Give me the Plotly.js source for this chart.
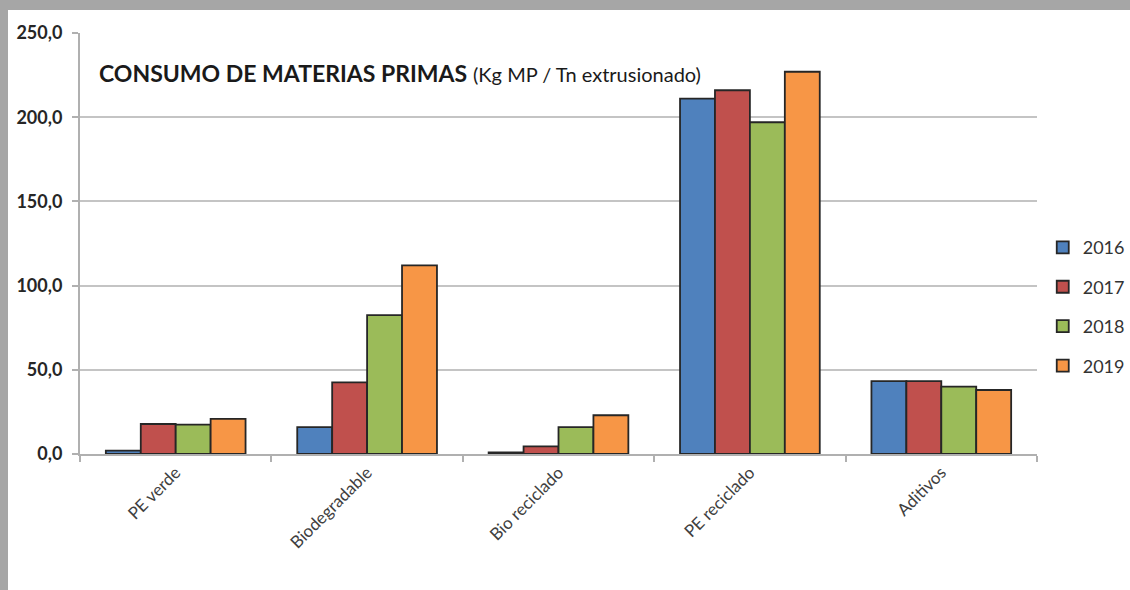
<!DOCTYPE html>
<html><head><meta charset="utf-8">
<script src="https://cdn.plot.ly/plotly-3.0.1.min.js"></script>
<style>
html,body{margin:0;padding:0;background:#a6a6a6;width:1130px;height:590px;overflow:hidden;}
#chart{position:absolute;left:8px;top:10px;width:1122px;height:580px;background:#fff;}
</style></head>
<body><div id="chart"></div>
<script>
const categories = ["PE verde", "Biodegradable", "Bio reciclado", "PE reciclado", "Aditivos"];
const years = ["2016", "2017", "2018", "2019"];
const v2016 = [2.0, 16.0, 1.0, 211.0, 43.3];
const v2017 = [17.8, 42.5, 4.5, 216.0, 43.3];
const v2018 = [17.5, 82.5, 16.0, 197.0, 40.0];
const v2019 = [20.8, 112.0, 23.0, 227.0, 38.0];
const yTicks = [0, 50, 100, 150, 200, 250];

const colors = ["#4f81bd", "#c0504d", "#9bbb59", "#f79646"];
const series = [v2016, v2017, v2018, v2019];
const font = "Lato, 'Open Sans', sans-serif";

const data = series.map((vals, i) => ({
  type: "bar", name: years[i], x: categories, y: vals,
  legendgroup: years[i],
  marker: {color: colors[i], line: {color: "#262626", width: 1.8}},
  hoverinfo: "y"
}));

const layout = {
  width: 1122, height: 580,
  margin: {l: 72, r: 93, t: 23, b: 136, autoexpand: false},
  paper_bgcolor: "#ffffff", plot_bgcolor: "#ffffff",
  font: {family: font, color: "#333333", size: 13},
  barmode: "group", bargap: 0.27, bargroupgap: 0,
  separators: ",.",
  showlegend: true,
  legend: {x: 1.006, xanchor: "left", y: 0.35, yanchor: "middle",
           font: {size: 18, color: "#333"}, traceorder: "grouped", tracegroupgap: 13,
           itemwidth: 30},
  xaxis: {type: "category", tickson: "boundaries", ticks: "outside", ticklen: 6,
          tickcolor: "#b0b0b0", tickwidth: 2, showline: true, linecolor: "#b0b0b0", linewidth: 2,
          tickangle: -45, showgrid: false, tickfont: {size: 17, color: "#404040"}},
  yaxis: {range: [0, 250], tickvals: yTicks, tickformat: ".1f", ticks: "outside", ticklen: 6,
          tickcolor: "#b0b0b0", tickwidth: 2, showline: true, linecolor: "#b0b0b0", linewidth: 2,
          gridcolor: "#c4c4c4", gridwidth: 2, zeroline: false, ticklabelstandoff: 6,
          tickfont: {size: 18, color: "#262626", weight: "bold"}},
  annotations: [{
    xref: "paper", yref: "paper", x: 0.018, y: 0.905, xanchor: "left", yanchor: "middle",
    showarrow: false,
    text: "<b>CONSUMO DE MATERIAS PRIMAS</b> <span style='font-size:20px'>(Kg MP / Tn extrusionado)</span>",
    font: {size: 23, color: "#1a1a1a", family: font}
  }]
};

Plotly.newPlot("chart", data, layout, {displayModeBar: false, staticPlot: true});
</script></body></html>
